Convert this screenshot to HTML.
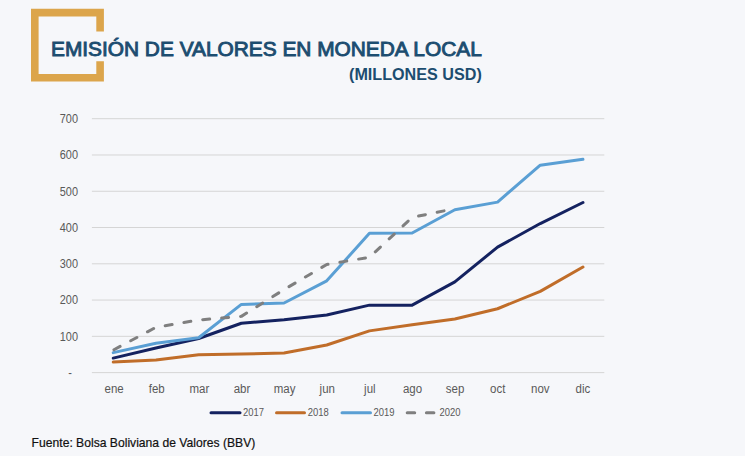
<!DOCTYPE html>
<html><head><meta charset="utf-8">
<style>
html,body{margin:0;padding:0;}
body{width:745px;height:456px;background:#f6f7fa;overflow:hidden;font-family:"Liberation Sans",sans-serif;}
svg{display:block;}
.t1{font-size:19.8px;font-weight:normal;fill:#1c4d70;stroke:#1c4d70;stroke-width:0.9px;}
.t2{font-size:15.8px;font-weight:bold;fill:#1c4d70;}
.src{font-size:12px;fill:#111;stroke:#111;stroke-width:0.2px;}
.axx{font-size:12.5px;fill:#595959;}
.ax{font-size:12px;fill:#595959;}
.lg{font-size:10.8px;fill:#595959;}
</style></head><body>
<svg width="745" height="456" viewBox="0 0 745 456" font-family="Liberation Sans, sans-serif">
<path d="M103.9 31.4 V8.8 H31 V81.5 H103.9 V61.3 H96.3 V73.9 H38.6 V16.4 H96.3 V31.4 Z" fill="#dca54b"/>
<text x="0" y="0" transform="translate(51.0 56.2) scale(1.054 1)" class="t1">EMISIÓN DE VALORES EN MONEDA LOCAL</text>
<text x="0" y="0" transform="translate(349 79.7) scale(1.023 1)" class="t2">(MILLONES USD)</text>
<line x1="91.9" y1="372.60" x2="604.3" y2="372.60" stroke="#d5d5d5" stroke-width="1"/>
<line x1="91.9" y1="336.33" x2="604.3" y2="336.33" stroke="#d5d5d5" stroke-width="1"/>
<line x1="91.9" y1="300.06" x2="604.3" y2="300.06" stroke="#d5d5d5" stroke-width="1"/>
<line x1="91.9" y1="263.79" x2="604.3" y2="263.79" stroke="#d5d5d5" stroke-width="1"/>
<line x1="91.9" y1="227.52" x2="604.3" y2="227.52" stroke="#d5d5d5" stroke-width="1"/>
<line x1="91.9" y1="191.25" x2="604.3" y2="191.25" stroke="#d5d5d5" stroke-width="1"/>
<line x1="91.9" y1="154.98" x2="604.3" y2="154.98" stroke="#d5d5d5" stroke-width="1"/>
<line x1="91.9" y1="118.71" x2="604.3" y2="118.71" stroke="#d5d5d5" stroke-width="1"/>
<text transform="translate(72 377.00) scale(0.91 1)" text-anchor="end" class="ax">-</text>
<text transform="translate(78 340.73) scale(0.91 1)" text-anchor="end" class="ax">100</text>
<text transform="translate(78 304.46) scale(0.91 1)" text-anchor="end" class="ax">200</text>
<text transform="translate(78 268.19) scale(0.91 1)" text-anchor="end" class="ax">300</text>
<text transform="translate(78 231.92) scale(0.91 1)" text-anchor="end" class="ax">400</text>
<text transform="translate(78 195.65) scale(0.91 1)" text-anchor="end" class="ax">500</text>
<text transform="translate(78 159.38) scale(0.91 1)" text-anchor="end" class="ax">600</text>
<text transform="translate(78 123.11) scale(0.91 1)" text-anchor="end" class="ax">700</text>
<text transform="translate(114.15 393.4) scale(0.92 1)" text-anchor="middle" class="axx">ene</text>
<text transform="translate(156.77 393.4) scale(0.92 1)" text-anchor="middle" class="axx">feb</text>
<text transform="translate(199.39 393.4) scale(0.92 1)" text-anchor="middle" class="axx">mar</text>
<text transform="translate(242.00 393.4) scale(0.92 1)" text-anchor="middle" class="axx">abr</text>
<text transform="translate(284.62 393.4) scale(0.92 1)" text-anchor="middle" class="axx">may</text>
<text transform="translate(327.24 393.4) scale(0.92 1)" text-anchor="middle" class="axx">jun</text>
<text transform="translate(369.86 393.4) scale(0.92 1)" text-anchor="middle" class="axx">jul</text>
<text transform="translate(412.48 393.4) scale(0.92 1)" text-anchor="middle" class="axx">ago</text>
<text transform="translate(455.10 393.4) scale(0.92 1)" text-anchor="middle" class="axx">sep</text>
<text transform="translate(497.71 393.4) scale(0.92 1)" text-anchor="middle" class="axx">oct</text>
<text transform="translate(540.33 393.4) scale(0.92 1)" text-anchor="middle" class="axx">nov</text>
<text transform="translate(582.95 393.4) scale(0.92 1)" text-anchor="middle" class="axx">dic</text>
<polyline points="113.25,362.08 155.95,359.91 198.65,354.83 241.35,354.10 284.05,353.01 326.75,345.03 369.45,330.89 412.15,324.72 454.85,318.92 497.55,308.76 540.25,291.36 582.95,267.05" fill="none" stroke="#c06d29" stroke-width="3.0" stroke-linejoin="round" stroke-linecap="round"/>
<polyline points="113.25,358.09 155.95,347.94 198.65,338.51 241.35,323.27 284.05,319.65 326.75,314.93 369.45,305.14 412.15,305.14 454.85,281.93 497.55,247.11 540.25,223.53 582.95,202.49" fill="none" stroke="#142260" stroke-width="3.0" stroke-linejoin="round" stroke-linecap="round"/>
<polyline points="113.25,352.65 155.95,343.22 198.65,337.78 241.35,304.41 284.05,302.96 326.75,280.84 369.45,233.32 412.15,232.96 454.85,209.75 497.55,202.13 540.25,165.14 582.95,159.33" fill="none" stroke="#5a9fd4" stroke-width="3.0" stroke-linejoin="round" stroke-linecap="round"/>
<polyline points="113.25,350.11 155.95,327.26 198.65,320.01 241.35,316.38 284.05,289.54 326.75,264.52 369.45,257.26 412.15,217.36 454.85,208.66" fill="none" stroke="#7f7f7f" stroke-width="3.0" stroke-dasharray="7 12" stroke-dashoffset="18.2" stroke-linejoin="round" stroke-linecap="round"/>
<line x1="211" y1="412.7" x2="240" y2="412.7" stroke="#142260" stroke-width="3.0" stroke-linecap="round"/>
<text transform="translate(243 415.9) scale(0.875 1)" class="lg">2017</text>
<line x1="276.5" y1="412.7" x2="304.5" y2="412.7" stroke="#c06d29" stroke-width="3.0" stroke-linecap="round"/>
<text transform="translate(307.7 415.9) scale(0.875 1)" class="lg">2018</text>
<line x1="342" y1="412.7" x2="370.5" y2="412.7" stroke="#5a9fd4" stroke-width="3.0" stroke-linecap="round"/>
<text transform="translate(373.5 415.9) scale(0.875 1)" class="lg">2019</text>
<line x1="407.2" y1="412.7" x2="434.3" y2="412.7" stroke="#7f7f7f" stroke-width="3.0" stroke-linecap="round" stroke-dasharray="7.5 11.7"/>
<text transform="translate(439.6 415.9) scale(0.875 1)" class="lg">2020</text>
<text transform="translate(31.6 446.6) scale(1.012 1)" class="src">Fuente: Bolsa Boliviana de Valores (BBV)</text>
</svg>
</body></html>
